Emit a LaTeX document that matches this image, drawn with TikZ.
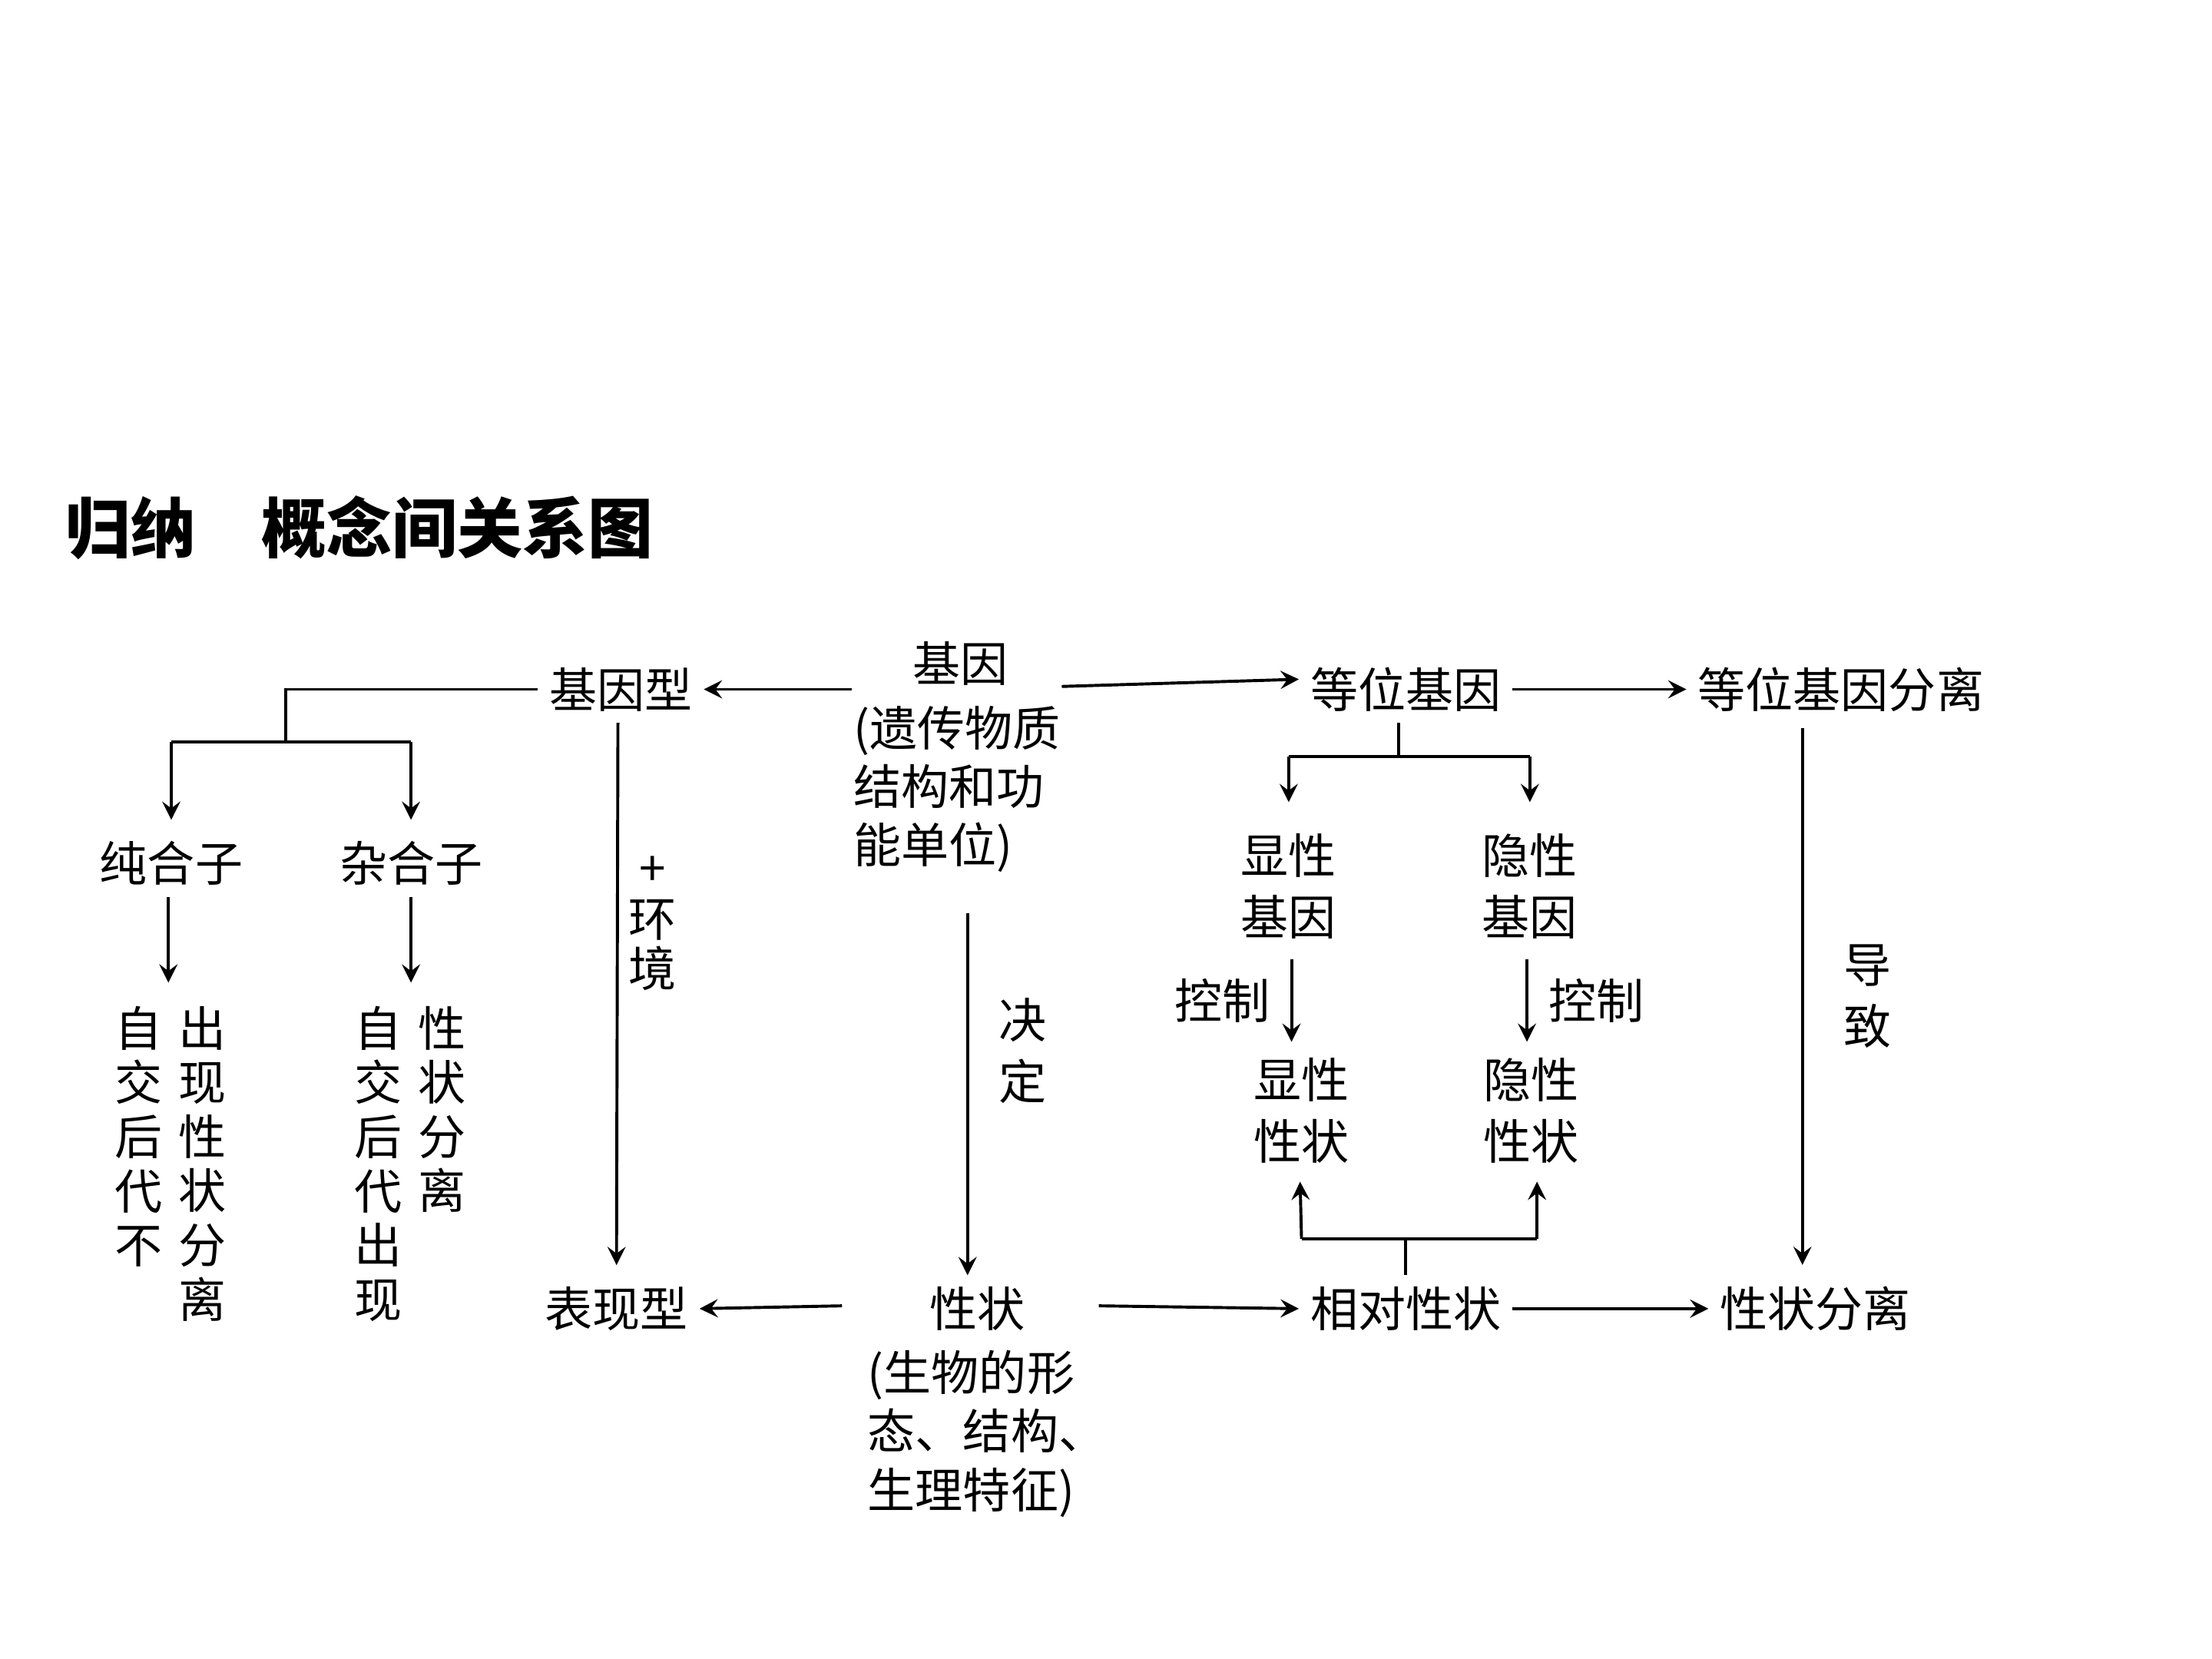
\documentclass[tikz,border=0pt]{standalone}
\usepackage{fontspec}
\setmainfont{Noto Sans CJK SC}
\usetikzlibrary{arrows,positioning}
\begin{document}
\begin{tikzpicture}[x=0.01cm,y=-0.01cm,->,>=stealth,semithick,
    every node/.style={font=\fontsize{9.5pt}{12.2pt}\selectfont,inner sep=2pt},
    vert/.style={align=center,font=\fontsize{9.5pt}{10.8pt}\selectfont,anchor=north},
    lbl/.style={align=center}
    ]
\useasboundingbox (0,0) rectangle (1550,1162);
% top row
\node[anchor=west,font=\fontsize{13pt}{15pt}\bfseries\selectfont] (title) at (38,370) {归纳\quad 概念间关系图};
\node (jyx) at (435,483) {基因型};
\node (jy) at (673,465) {基因};
\node[anchor=west,align=left,inner sep=0pt] (jyinfo) at (597,553) {(遗传物质\\[-0.5pt]结构和功\\[-0.5pt]能单位)};
\node (dw) at (985,483) {等位基因};
\node (dwfl) at (1290,483) {等位基因分离};
% left branch
\coordinate (br) at (200,520);
\node (chz) at (120,605) {纯合子};
\node (zhz) at (288,605) {杂合子};
\node[vert] (c1) at (97,697) {自\\交\\后\\代\\不};
\node[vert] (c2) at (142,697) {出\\现\\性\\状\\分\\离};
\node[vert] (z1) at (265,697) {自\\交\\后\\代\\出\\现};
\node[vert] (z2) at (310,697) {性\\状\\分\\离};
% alleles
\coordinate (ab) at (980,530);
\node[lbl] (xxjy) at (903,621) {显性\\基因};
\node[lbl] (yxjy) at (1072,621) {隐性\\基因};
\node[lbl] (xxxz) at (912,778) {显性\\性状};
\node[lbl] (yxxz) at (1073,778) {隐性\\性状};
% bottom row
\node (bxx) at (432,917) {表现型};
\node (xz) at (685,917) {性状};
\node[anchor=north west,align=left,inner sep=0pt] (xzinfo) at (607,945) {(生物的形\\[-0.5pt]态、结构、\\[-0.5pt]生理特征)};
\node (xdxz) at (985,917) {相对性状};
\node (xzfl) at (1272,917) {性状分离};
\coordinate (rb) at (985,868);

\draw (jyinfo.west |- jyx) -- (jyx.east);
\draw (jyinfo.east |- dw) ++(0,-2) -- ([yshift=2]dw.west);
\draw (dw) -- (dwfl);
\draw[-] (jyx.west) -- (br |- jyx) -- (br);
\draw[-] (chz |- br) -- (zhz |- br);
\draw (chz |- br) -- ([yshift=2]chz.north);
\draw (zhz |- br) -- ([yshift=2]zhz.north);
\draw (chz.south) ++(-2,0) -- ++(0,60);
\draw (zhz.south) -- ++(0,60);
\draw (jyx.south) ++(-2,0) -- ([yshift=2]bxx.north) node[pos=0.37,right,lbl,font=\fontsize{9.5pt}{10pt}\selectfont] {+\\环\\境};
\draw (678,640) -- (xz.north -| 678,0) node[pos=0.38,right=4pt,lbl] {决\\定};
\draw[-] (dw.south -| ab) -- (ab);
\draw[-] (xxjy |- ab) -- (yxjy |- ab);
\draw (xxjy |- ab) -- ([yshift=4]xxjy.north);
\draw (yxjy |- ab) -- ([yshift=4]yxjy.north);
\draw (905,672) -- (905,730) node[midway,left=2pt] {控制};
\draw (1070,672) -- (1070,730) node[midway,right=2pt] {控制};
\draw (1263,510) -- ([yshift=2]xzfl.north -| 1263,0) node[pos=0.5,right=6pt,lbl] {导\\致};
\draw (590,915) -- (bxx.east);
\draw (770,915) -- (xdxz.west);
\draw (xdxz) -- (xzfl);
\draw[-] (xdxz.north) -- (rb);
\draw[-] (xxxz |- rb) -- (1077,868);
\draw (xxxz |- rb) -- (911,828);
\draw (1077,868) -- (1077,828);
\end{tikzpicture}
\end{document}
